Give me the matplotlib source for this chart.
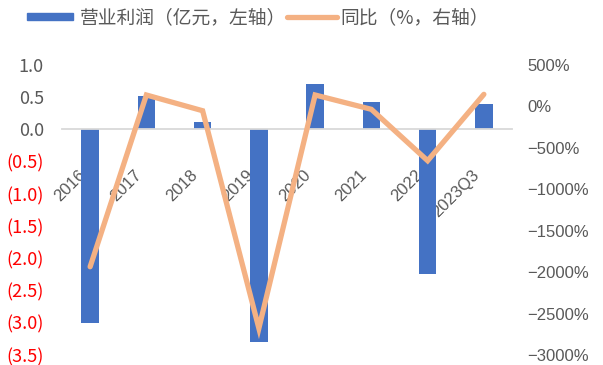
import matplotlib
matplotlib.use("Agg")
import matplotlib.pyplot as plt
import matplotlib.transforms as mtransforms
from matplotlib.patches import Rectangle
from matplotlib.lines import Line2D

categories = ["2016", "2017", "2018", "2019", "2020", "2021", "2022", "2023Q3"]
profit = [-3.00, 0.52, 0.12, -3.30, 0.71, 0.42, -2.25, 0.39]       # 亿元
yoy = [-1935, 138, -52, -2678, 138, -35, -655, 146]                # %
left_ticks = [1.0, 0.5, 0.0, -0.5, -1.0, -1.5, -2.0, -2.5, -3.0, -3.5]
right_ticks = [500, 0, -500, -1000, -1500, -2000, -2500, -3000]

BLUE = "#4472C4"
ORANGE = "#F4B183"
GRAY = "#595959"
LGRAY = "#D9D9D9"

W, H = 603, 365
fig = plt.figure(figsize=(W / 100, H / 100), dpi=100)
ax = fig.add_axes([62 / W, 1 - 355 / H, (512 - 62) / W, (355 - 65) / H])
ax2 = ax.twinx()

x = list(range(len(categories)))
ax.bar(x, profit, width=0.31, color=BLUE, zorder=2)
ax.set_xlim(-0.5, len(categories) - 0.5)
ax.set_ylim(-3.5, 1.0)
ax.set_yticks(left_ticks)
lbls = []
for v in left_ticks:
    if v < 0:
        lbls.append("(%.1f)" % abs(v))
    else:
        lbls.append("%.1f" % v)
ax.set_yticklabels(lbls, fontsize=13, family=["Noto Sans CJK SC", "DejaVu Sans"])
for t, v in zip(ax.get_yticklabels(), left_ticks):
    t.set_color("#FF0000" if v < 0 else GRAY)
ax.tick_params(axis="y", length=0, pad=13)

ax.spines["bottom"].set_position(("data", 0))
ax.spines["bottom"].set_color(LGRAY)
ax.spines["bottom"].set_linewidth(1.3)
for s in ["top", "left", "right"]:
    ax.spines[s].set_visible(False)
ax.set_xticks(x)
ax.set_xticklabels(categories, rotation=45, ha="right", va="top",
                   fontsize=12, color=GRAY, family=["Liberation Sans"])
ax.tick_params(axis="x", length=0, pad=27)
off = mtransforms.ScaledTranslation(-2 / 100, 0, fig.dpi_scale_trans)
for t in ax.get_xticklabels():
    t.set_transform(t.get_transform() + off)

ax2.plot(x, yoy, color=ORANGE, lw=3.8, solid_capstyle="round",
         solid_joinstyle="miter", zorder=3)
ax2.set_ylim(-3000, 500)
ax2.set_yticks(right_ticks)
ax2.set_yticklabels(["%d%%" % v if v >= 0 else "\u2212%d%%" % abs(v) for v in right_ticks],
                    fontsize=12, color=GRAY, family=["Liberation Sans"])
ax2.tick_params(axis="y", length=0, pad=11)
for s in ["top", "left", "right", "bottom"]:
    ax2.spines[s].set_visible(False)

# legend
fy = 1 - 18 / H
fig.patches.append(Rectangle((27 / W, 1 - 20 / H), 46 / W, 7 / H,
                             transform=fig.transFigure, color=BLUE))
fig.text(80 / W, fy, "营业利润（亿元，左轴）", fontsize=13.5, color=GRAY,
         family=["Noto Sans CJK SC"], va="center", ha="left")
fig.lines.append(Line2D([287 / W, 337 / W], [1 - 16.5 / H, 1 - 16.5 / H],
                        transform=fig.transFigure, color=ORANGE, lw=3.8,
                        solid_capstyle="round"))
fig.text(340 / W, fy, "同比（%，右轴）", fontsize=13.5, color=GRAY,
         family=["Noto Sans CJK SC"], va="center", ha="left")

fig.savefig("out.png", dpi=100)
